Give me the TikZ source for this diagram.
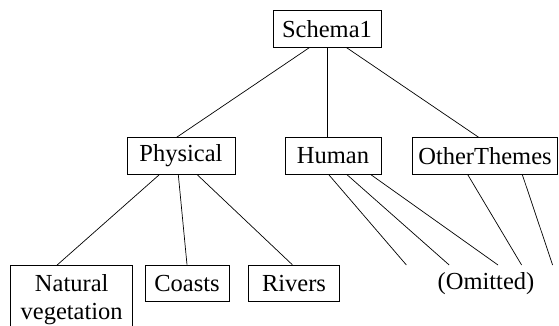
\documentclass[tikz,border=0pt]{standalone}
\usepackage{fontspec}
\setmainfont{Liberation Serif}

\begin{document}
\begin{tikzpicture}[x=1pt,y=-1pt,line width=0.7pt,
	box/.style={draw,rectangle,inner sep=0pt,minimum height=36.5pt,font=\fontsize{24.5}{28.5}\selectfont}]
	\useasboundingbox (0,0) rectangle (559,326);
	\node[box,minimum width=108pt] (sch) at (327,29) {Schema1};
	\node[box,minimum width=108pt] (phy) at (181,156) {Physical};
	\node[box,minimum width=96pt] (hum) at (333,156) {Human};
	\node[box,minimum width=145pt] (oth) at (485,156) {OtherThemes};
	\node[box,minimum width=122pt,minimum height=68pt,align=center] (nat) at (71.7,299.5) {Natural\\vegetation};
	\node[box,minimum width=84pt] (coa) at (187,283.3) {Coasts};
	\node[box,minimum width=91pt] (riv) at (294,283.3) {Rivers};
	\node[font=\fontsize{24.5}{28.5}\selectfont] (omi) at (486,284) {(Omitted)};
	% loose ends towards the omitted part
	\coordinate (o1) at (406.4,265);
	\coordinate (o2) at (449.2,265);
	\coordinate (o3) at (498,265);
	\coordinate (o4) at (521.6,265);
	\coordinate (o5) at (552.6,265);
	\draw ([xshift=-17.6pt]sch.south) -- ([xshift=-4.5pt]phy.north);
	\draw (sch.south) -- (sch.south |- hum.north);
	\draw ([xshift=19.5pt]sch.south) -- ([xshift=-6.2pt]oth.north);
	\draw ([xshift=-21.6pt]phy.south) -- ([xshift=-14.7pt]nat.north);
	\draw ([xshift=-2.7pt]phy.south) -- (coa.north);
	\draw ([xshift=16.1pt]phy.south) -- ([xshift=-1.7pt]riv.north);
	\draw ([xshift=-4.3pt]hum.south) -- (o1);
	\draw ([xshift=13.9pt]hum.south) -- (o2);
	\draw ([xshift=37.8pt]hum.south) -- (o3);
	\draw ([xshift=-17.3pt]oth.south) -- (o4);
	\draw ([xshift=37.3pt]oth.south) -- (o5);
\end{tikzpicture}
\end{document}
